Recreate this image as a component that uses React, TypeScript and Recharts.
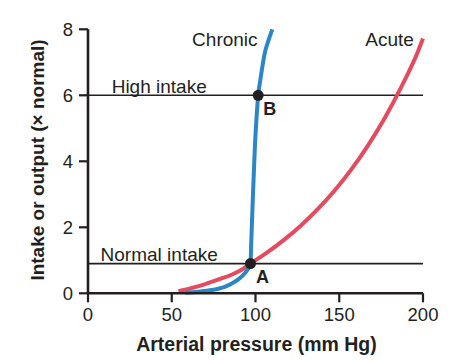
import { Label, Line, LineChart, ReferenceDot, ReferenceLine, XAxis, YAxis } from "recharts"

// pressure (mm Hg) vs intake/output (x normal)
const ACUTE_X = [54, 62, 70, 78, 86, 92, 97, 107, 117, 127, 137, 147, 157, 167, 177, 187, 197, 200]
const ACUTE_Y = [0.06, 0.16, 0.28, 0.42, 0.57, 0.72, 0.9, 1.24, 1.62, 2.05, 2.54, 3.1, 3.74, 4.47, 5.3, 6.25, 7.33, 7.72]

const CHRONIC_X = [58, 66, 74, 82, 88, 92, 95, 97, 97.5, 98.5, 99.6, 100.6, 101.6, 103, 105.5, 108, 110]
const CHRONIC_Y = [0.02, 0.05, 0.1, 0.2, 0.36, 0.52, 0.7, 0.9, 1.6, 3.0, 4.4, 5.3, 6.0, 6.5, 7.27, 7.7, 8.0]

const X_TICKS = [0, 50, 100, 150, 200]
const Y_TICKS = [0, 2, 4, 6, 8]

const NORMAL_INTAKE = 0.9
const HIGH_INTAKE = 6
const POINT_A = { x: 97, y: 0.9 }
const POINT_B = { x: 101.6, y: 6 }

const INK = "#231f20"
const RED = "#e64a5f"
const BLUE = "#2a86c8"
const FONT = "'Liberation Sans', Arial, sans-serif"

const acute = ACUTE_X.map((x, i) => ({ x, y: ACUTE_Y[i] }))
const chronic = CHRONIC_X.map((x, i) => ({ x, y: CHRONIC_Y[i] }))

const textLabel = (value: string, bold = false) => ({
    value,
    position: "center" as const,
    fill: INK,
    fontSize: bold ? 18 : 19,
    fontWeight: bold ? 700 : 400,
    fontFamily: FONT,
})

const XTick = ({ x, y, payload }: any) => (
    <text x={x} y={y} dy="0.71em" textAnchor="middle" fill={INK} fontSize={18.5} fontFamily={FONT}>
        {payload.value}
    </text>
)

const YTick = ({ x, y, payload }: any) => (
    <text x={x} y={y} dy="0.355em" textAnchor="end" fill={INK} fontSize={18.5} fontFamily={FONT}>
        {payload.value}
    </text>
)

const App = () => {
    return (
        <div style={{ position: "absolute", left: 0, top: 0, width: 473, height: 361, background: "#fff" }}>
            <LineChart width={473} height={361} margin={{ top: 29.3, right: 50, bottom: 0, left: 0 }}>
                <XAxis
                    type="number"
                    dataKey="x"
                    domain={[0, 200]}
                    ticks={X_TICKS}
                    height={67.7}
                    axisLine={{ stroke: INK, strokeWidth: 2.6 }}
                    tickLine={{ stroke: INK, strokeWidth: 2.2 }}
                    tickSize={9}
                    tickMargin={6}
                    tick={XTick}
                >
                    <Label
                        content={() => (
                            <text x={256.5} y={351} textAnchor="middle" fill={INK} fontSize={19.5} fontWeight={700} fontFamily={FONT}>
                                Arterial pressure (mm Hg)
                            </text>
                        )}
                    />
                </XAxis>
                <YAxis
                    type="number"
                    dataKey="y"
                    domain={[0, 8]}
                    ticks={Y_TICKS}
                    width={88}
                    axisLine={{ stroke: INK, strokeWidth: 2.6 }}
                    tickLine={{ stroke: INK, strokeWidth: 2.2 }}
                    tickSize={9}
                    tickMargin={6}
                    tick={YTick}
                >
                    <Label
                        content={() => (
                            <text
                                x={44}
                                y={160}
                                transform="rotate(-90 44 160)"
                                textAnchor="middle"
                                fill={INK}
                                fontSize={19}
                                fontWeight={700}
                                fontFamily={FONT}
                            >
                                Intake or output (× normal)
                            </text>
                        )}
                    />
                </YAxis>
                <ReferenceLine y={HIGH_INTAKE} stroke={INK} strokeWidth={1.6} />
                <ReferenceLine y={NORMAL_INTAKE} stroke={INK} strokeWidth={1.6} />
                <Line
                    data={acute}
                    dataKey="y"
                    type="monotone"
                    stroke={RED}
                    strokeWidth={4}
                    dot={false}
                    activeDot={false}
                    isAnimationActive={false}
                />
                <Line
                    data={chronic}
                    dataKey="y"
                    type="monotone"
                    stroke={BLUE}
                    strokeWidth={4}
                    dot={false}
                    activeDot={false}
                    isAnimationActive={false}
                />
                <ReferenceDot x={POINT_A.x} y={POINT_A.y} r={5.5} fill={INK} stroke="none" />
                <ReferenceDot x={POINT_B.x} y={POINT_B.y} r={5.5} fill={INK} stroke="none" />
                <ReferenceDot x={81.7} y={7.7} r={0.01} fill="none" stroke="none" label={textLabel("Chronic")} />
                <ReferenceDot x={180} y={7.7} r={0.01} fill="none" stroke="none" label={textLabel("Acute")} />
                <ReferenceDot x={42.5} y={6.28} r={0.01} fill="none" stroke="none" label={textLabel("High intake")} />
                <ReferenceDot x={42.5} y={1.19} r={0.01} fill="none" stroke="none" label={textLabel("Normal intake")} />
                <ReferenceDot x={104.2} y={0.52} r={0.01} fill="none" stroke="none" label={textLabel("A", true)} />
                <ReferenceDot x={108.5} y={5.6} r={0.01} fill="none" stroke="none" label={textLabel("B", true)} />
            </LineChart>
        </div>
    )
}

export default App
